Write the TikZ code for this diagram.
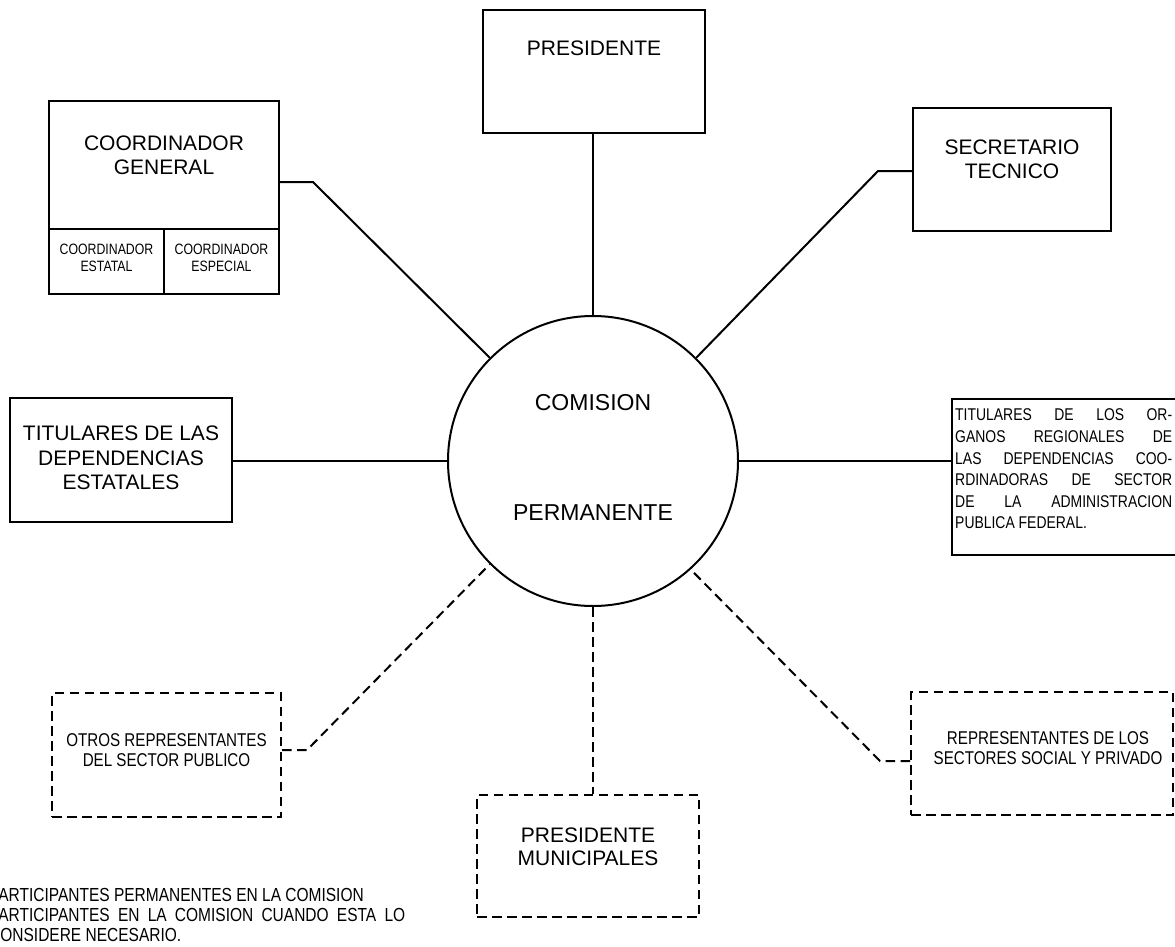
\documentclass[tikz,border=0pt]{standalone}
\usepackage{fontspec}
\setmainfont{Liberation Sans}
\newfontfamily\narrowfont{Liberation Sans}[FakeStretch=0.82]
\tikzset{
  box/.style={draw, line width=2pt, rectangle, inner sep=0pt},
  dbox/.style={draw, line width=2pt, rectangle, inner sep=0pt, dash pattern=on 9.5pt off 5.5pt},
  conn/.style={line width=2pt},
  dconn/.style={line width=2pt, dash pattern=on 9.5pt off 5.5pt},
  big/.style={align=center, inner sep=0pt, font=\fontsize{21}{24}\selectfont},
  mid/.style={align=center, inner sep=0pt, font=\narrowfont\fontsize{18.5}{20}\selectfont},
  small/.style={align=center, inner sep=0pt, font=\narrowfont\fontsize{15}{17}\selectfont},
}
\begin{document}
\begin{tikzpicture}[x=1pt,y=-1pt]
\useasboundingbox (0,0) rectangle (1175,947);
% circle
\node[draw, circle, line width=2pt, minimum size=290pt, inner sep=0pt] (com) at (593,461) {};
\node[big, font=\fontsize{23}{26}\selectfont] (comt1) at (593,403) {COMISION};
\node[big, font=\fontsize{23}{26}\selectfont] (comt2) at (593,513) {PERMANENTE};
% presidente
\node[box, minimum width=222pt, minimum height=123pt] (pres) at (594,71.5) {};
\node[big] (prest) at (594,48) {PRESIDENTE};
% secretario
\node[box, minimum width=198pt, minimum height=123pt] (sec) at (1012,169.5) {};
\node[big] (sect) at (1012,159) {SECRETARIO\\TECNICO};
% coordinador general
\node[box, minimum width=230pt, minimum height=193pt] (cg) at (164,197.5) {};
\coordinate (cgd1) at (49,229);
\coordinate (cgd2) at (164,229);
\draw[conn] (cgd1) -- (cgd1 -| cg.east);
\draw[conn] (cgd2) -- (cgd2 |- cg.south);
\node[big] (cgt) at (164,155) {COORDINADOR\\GENERAL};
\node[small] (cet) at (106.5,258) {COORDINADOR\\ESTATAL};
\node[small] (cst) at (221.5,258) {COORDINADOR\\ESPECIAL};
% titulares estatales
\node[box, minimum width=222pt, minimum height=124pt] (tde) at (121,460) {};
\node[big, font=\fontsize{21}{24.5}\selectfont] (tdet) at (121,458) {TITULARES DE LAS\\DEPENDENCIAS\\ESTATALES};
% titulares organos regionales
\node[box, minimum width=240pt, minimum height=156pt] (tor) at (1072,477) {};
\node[anchor=west, inner sep=0pt, align=left, font=\narrowfont\fontsize{17}{21.6}\selectfont] (tort) at (955,469) {%
\hbox to 217pt{TITULARES\hfill DE\hfill LOS\hfill OR-}\\
\hbox to 217pt{GANOS\hfill REGIONALES\hfill DE}\\
\hbox to 217pt{LAS\hfill DEPENDENCIAS\hfill COO-}\\
\hbox to 217pt{RDINADORAS\hfill DE\hfill SECTOR}\\
\hbox to 217pt{DE\hfill LA\hfill ADMINISTRACION}\\
PUBLICA FEDERAL.};
% dashed boxes
\node[dbox, minimum width=229pt, minimum height=124pt] (otros) at (166.5,755) {};
\node[mid] (otrost) at (166.5,750) {OTROS REPRESENTANTES\\DEL SECTOR PUBLICO};
\node[dbox, minimum width=222pt, minimum height=122pt] (pm) at (588,856) {};
\node[big, font=\fontsize{21}{23}\selectfont] (pmt) at (588,846.5) {PRESIDENTE\\MUNICIPALES};
\node[dbox, minimum width=262pt, minimum height=123pt] (rep) at (1042,753.5) {};
\node[mid] (rept) at (1048,748) {REPRESENTANTES DE LOS\\SECTORES SOCIAL Y PRIVADO};
% connectors
\draw[conn] (com.north) -- (com.north |- pres.south);
\coordinate (seck) at (878,171);
\draw[conn] (sec.west |- seck) -- (seck) -- (com.45);
\coordinate (cgk) at (313,182);
\draw[conn] (cg.east |- cgk) -- (cgk) -- (com.135);
\draw[conn] (com.west) -- (com.west -| tde.east);
\draw[conn] (com.east) -- (com.east -| tor.west);
\coordinate (otk) at (307,750);
\draw[dconn] (otros.east |- otk) -- (otk) -- (com.-135);
\draw[dconn] (com.south) -- (com.south |- pm.north);
\coordinate (repk) at (880,761);
\draw[dconn] (rep.west |- repk) -- (repk) -- (com.-48);
% legend
\node[anchor=west, inner sep=0pt, align=left, font=\narrowfont\fontsize{18.9}{20}\selectfont] (leg) at (-11,915) {%
PARTICIPANTES PERMANENTES EN LA COMISION\\
\hbox to 416pt{PARTICIPANTES\hfill EN\hfill LA\hfill COMISION\hfill CUANDO\hfill ESTA\hfill LO}\\
CONSIDERE NECESARIO.};
\end{tikzpicture}
\end{document}
